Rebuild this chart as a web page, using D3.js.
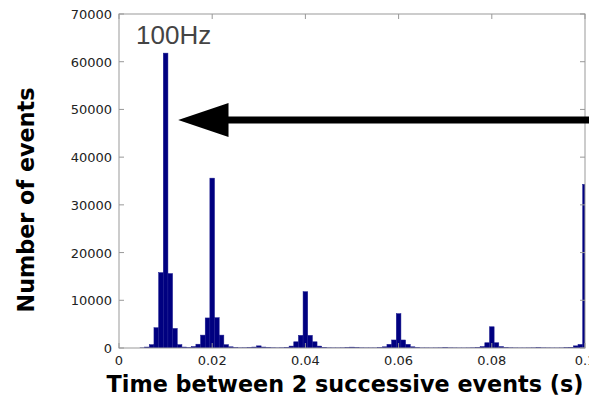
<!DOCTYPE html>
<html>
<head>
<meta charset="utf-8">
<script src="https://cdn.jsdelivr.net/npm/d3@7"></script>
<style>
  html, body { margin: 0; padding: 0; background: #fff; overflow: hidden; }
</style>
</head>
<body>
<div id="chart"></div>
<script>
// histogram of inter-event times, one bin per 0.001 s (bin k centred on k*0.001)
const binWidth = 0.001;
const counts = [
    0, 0, 0, 0, 0, 30, 200, 700, 4250, 15800,           // 0.000 - 0.009
    61800, 15600, 4100, 700, 200, 80, 300, 800, 2700, 6300, // 0.010 - 0.019
    35600, 6350, 2700, 700, 250, 80, 40, 50, 100, 200,  // 0.020 - 0.029
    450, 200, 100, 50, 30, 50, 120, 400, 1300, 2650,    // 0.030 - 0.039
    11800, 2650, 1300, 400, 120, 40, 30, 30, 40, 80,    // 0.040 - 0.049
    180, 80, 40, 30, 30, 30, 80, 250, 770, 1680,        // 0.050 - 0.059
    7200, 1680, 770, 250, 80, 30, 30, 20, 30, 40,       // 0.060 - 0.069
    80, 40, 30, 20, 20, 30, 50, 100, 300, 1100,         // 0.070 - 0.079
    4450, 1100, 300, 100, 50, 30, 20, 20, 30, 40,       // 0.080 - 0.089
    70, 40, 30, 20, 20, 30, 60, 150, 450, 750,          // 0.090 - 0.099
    34300                                               // 0.100
];
const xTicks = [0, 0.02, 0.04, 0.06, 0.08, 0.1];
const xTickLabels = ["0", "0.02", "0.04", "0.06", "0.08", "0.1"];
const yTicks = [0, 10000, 20000, 30000, 40000, 50000, 60000, 70000];
const xLabel = "Time between 2 successive events (s)";
const yLabel = "Number of events";
const note = "100Hz";
// arrow annotation (data units): tip, and where the head ends
const arrowTip = { x: 0.0127, y: 47800 };
const arrowHeadEnd = 0.0235;

const width = 589, height = 403;
const margin = { top: 14, right: 4, bottom: 55, left: 119 };

const x = d3.scaleLinear().domain([0, 0.1]).range([margin.left, width - margin.right]);
const y = d3.scaleLinear().domain([0, 70000]).range([height - margin.bottom, margin.top]);

const svg = d3.select("#chart").append("svg")
    .attr("width", width)
    .attr("height", height)
    .style("display", "block");

svg.append("clipPath").attr("id", "plot-clip")
    .append("rect")
    .attr("x", margin.left).attr("y", margin.top)
    .attr("width", x(0.1) - margin.left)
    .attr("height", y(0) - margin.top);

// bars
svg.append("g")
    .attr("clip-path", "url(#plot-clip)")
    .selectAll("rect")
    .data(counts)
    .join("rect")
    .attr("x", (d, i) => x((i - 0.5) * binWidth))
    .attr("width", (d, i) => x((i + 0.5) * binWidth) - x((i - 0.5) * binWidth))
    .attr("y", d => y(d))
    .attr("height", d => y(0) - y(d))
    .attr("fill", "#000080")
    .attr("stroke", "#1c1c90")
    .attr("stroke-width", 0.5);

// frame
const frameColor = "#999";
svg.append("rect")
    .attr("x", x(0)).attr("y", y(70000))
    .attr("width", x(0.1) - x(0))
    .attr("height", y(0) - y(70000))
    .attr("fill", "none")
    .attr("stroke", frameColor)
    .attr("stroke-width", 1);

// inward ticks on all four sides
const tl = 5;
const ticks = svg.append("g").attr("stroke", frameColor).attr("stroke-width", 1);
xTicks.forEach(t => {
    ticks.append("line").attr("x1", x(t)).attr("x2", x(t)).attr("y1", y(0)).attr("y2", y(0) - tl);
    ticks.append("line").attr("x1", x(t)).attr("x2", x(t)).attr("y1", y(70000)).attr("y2", y(70000) + tl);
});
yTicks.forEach(t => {
    ticks.append("line").attr("x1", x(0)).attr("x2", x(0) + tl).attr("y1", y(t)).attr("y2", y(t));
    ticks.append("line").attr("x1", x(0.1)).attr("x2", x(0.1) - tl).attr("y1", y(t)).attr("y2", y(t));
});

// tick labels
const tickFont = "'DejaVu Sans', sans-serif";
svg.append("g")
    .selectAll("text")
    .data(xTicks)
    .join("text")
    .attr("x", d => x(d))
    .attr("y", y(0) + 17)
    .attr("text-anchor", "middle")
    .style("font-family", tickFont)
    .style("font-size", "13px")
    .style("fill", "#222")
    .text((d, i) => xTickLabels[i]);

svg.append("g")
    .selectAll("text")
    .data(yTicks)
    .join("text")
    .attr("x", x(0) - 7)
    .attr("y", d => y(d) + 5)
    .attr("text-anchor", "end")
    .style("font-family", tickFont)
    .style("font-size", "13px")
    .style("fill", "#222")
    .text(d => d);

// axis titles
svg.append("text")
    .attr("x", 345)
    .attr("y", 392)
    .attr("text-anchor", "middle")
    .style("font-family", "'DejaVu Sans', sans-serif")
    .style("font-weight", "bold")
    .style("font-size", "22.3px")
    .style("fill", "#000")
    .text(xLabel);

svg.append("text")
    .attr("transform", `translate(34, ${(y(0) + y(70000)) / 2 + 19}) rotate(-90)`)
    .attr("text-anchor", "middle")
    .style("font-family", "'DejaVu Sans', sans-serif")
    .style("font-weight", "bold")
    .style("font-size", "22.3px")
    .style("fill", "#000")
    .text(yLabel);

// annotation
svg.append("text")
    .attr("x", 136)
    .attr("y", 44)
    .style("font-family", "'Liberation Sans', Arial, sans-serif")
    .style("font-size", "26px")
    .style("fill", "#444")
    .text(note);

const ty = y(arrowTip.y), tx = x(arrowTip.x), hx = x(arrowHeadEnd);
const shaft = 3.5, head = 17;
svg.append("path")
    .attr("d", [
        "M", tx, ty,
        "L", hx, ty - head,
        "L", hx, ty - shaft,
        "L", width + 10, ty - shaft,
        "L", width + 10, ty + shaft,
        "L", hx, ty + shaft,
        "L", hx, ty + head,
        "Z"].join(" "))
    .attr("fill", "#000");
</script>
</body>
</html>
